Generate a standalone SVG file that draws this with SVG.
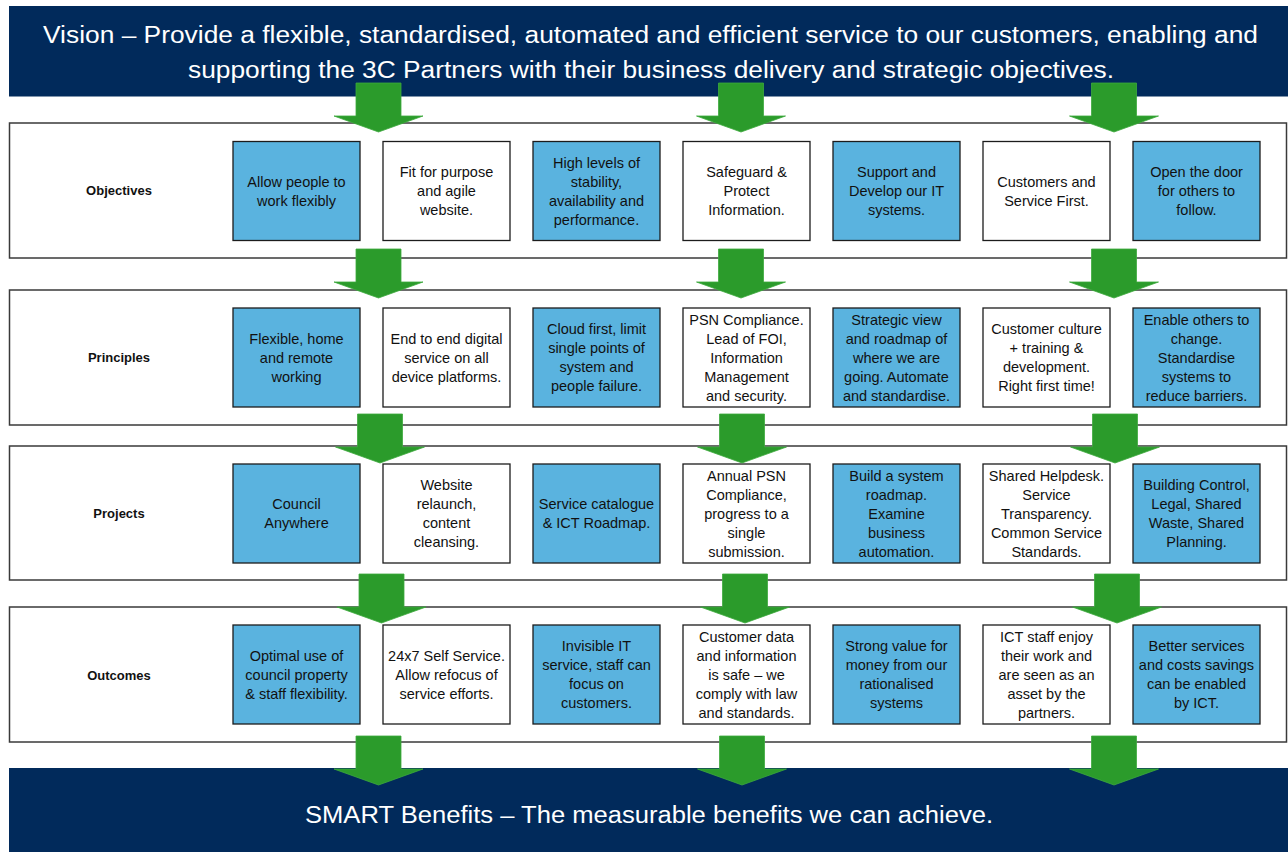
<svg xmlns="http://www.w3.org/2000/svg" width="1288" height="852" viewBox="0 0 1288 852">
  <style>
    .banner { fill: #012A5B; }
    .banner-text { font-family: "Liberation Sans", Arial, sans-serif; fill: #ffffff; text-anchor: middle; }
    .row { fill: #ffffff; stroke: #3a3a3a; stroke-width: 1.5; }
    .row-label { font-family: "Liberation Sans", Arial, sans-serif; font-size: 13px; font-weight: bold; fill: #111; text-anchor: middle; }
    .box-blue { fill: #5AB3DF; stroke: #1c1c1c; stroke-width: 1.3; }
    .box-white { fill: #ffffff; stroke: #1c1c1c; stroke-width: 1.3; }
    .box-text { font-family: "Liberation Sans", Arial, sans-serif; font-size: 14.5px; fill: #111; text-anchor: middle; }
    .arrow { fill: #2B9B2B; stroke: #3DAA3D; stroke-width: 0.8; }
  </style>
  <defs>
    <!-- block arrow, origin at the top centre of the shaft -->
    <path id="down" d="M-22.5,0 H22.5 V33 H44.5 L0,49 L-44.5,33 H-22.5 Z"/>
  </defs>

  <rect width="1288" height="852" fill="#ffffff"/>

  <!-- Vision banner -->
  <g id="vision">
    <rect class="banner" x="9" y="6" width="1285" height="90.5"/>
    <text class="banner-text" font-size="23" x="650.5" y="42.5" textLength="1215" lengthAdjust="spacingAndGlyphs">Vision – Provide a flexible, standardised, automated and efficient service to our customers, enabling and</text>
    <text class="banner-text" font-size="23" x="651" y="78" textLength="926" lengthAdjust="spacingAndGlyphs">supporting the 3C Partners with their business delivery and strategic objectives.</text>
  </g>

  <!-- Objectives -->
  <g id="objectives">
    <rect class="row" x="9.5" y="123" width="1277" height="135"/>
    <text class="row-label" x="119" y="195">Objectives</text>
  </g>
  <g id="obj-1"><rect class="box-blue" x="233" y="141.5" width="127" height="99"/>
    <text class="box-text" y="186.5"><tspan x="296.5">Allow people to</tspan><tspan x="296.5" dy="19">work flexibly</tspan></text></g>
  <g id="obj-2"><rect class="box-white" x="383" y="141.5" width="127" height="99"/>
    <text class="box-text" y="177"><tspan x="446.5">Fit for purpose</tspan><tspan x="446.5" dy="19">and agile</tspan><tspan x="446.5" dy="19">website.</tspan></text></g>
  <g id="obj-3"><rect class="box-blue" x="533" y="141.5" width="127" height="99"/>
    <text class="box-text" y="167.5"><tspan x="596.5">High levels of</tspan><tspan x="596.5" dy="19">stability,</tspan><tspan x="596.5" dy="19">availability and</tspan><tspan x="596.5" dy="19">performance.</tspan></text></g>
  <g id="obj-4"><rect class="box-white" x="683" y="141.5" width="127" height="99"/>
    <text class="box-text" y="177"><tspan x="746.5">Safeguard &amp;</tspan><tspan x="746.5" dy="19">Protect</tspan><tspan x="746.5" dy="19">Information.</tspan></text></g>
  <g id="obj-5"><rect class="box-blue" x="833" y="141.5" width="127" height="99"/>
    <text class="box-text" y="177"><tspan x="896.5">Support and</tspan><tspan x="896.5" dy="19">Develop our IT</tspan><tspan x="896.5" dy="19">systems.</tspan></text></g>
  <g id="obj-6"><rect class="box-white" x="983" y="141.5" width="127" height="99"/>
    <text class="box-text" y="186.5"><tspan x="1046.5">Customers and</tspan><tspan x="1046.5" dy="19">Service First.</tspan></text></g>
  <g id="obj-7"><rect class="box-blue" x="1133" y="141.5" width="127" height="99"/>
    <text class="box-text" y="177"><tspan x="1196.5">Open the door</tspan><tspan x="1196.5" dy="19">for others to</tspan><tspan x="1196.5" dy="19">follow.</tspan></text></g>

  <!-- Principles -->
  <g id="principles">
    <rect class="row" x="9.5" y="290" width="1277" height="135"/>
    <text class="row-label" x="119" y="362">Principles</text>
  </g>
  <g id="pri-1"><rect class="box-blue" x="233" y="308" width="127" height="99"/>
    <text class="box-text" y="343.5"><tspan x="296.5">Flexible, home</tspan><tspan x="296.5" dy="19">and remote</tspan><tspan x="296.5" dy="19">working</tspan></text></g>
  <g id="pri-2"><rect class="box-white" x="383" y="308" width="127" height="99"/>
    <text class="box-text" y="343.5"><tspan x="446.5">End to end digital</tspan><tspan x="446.5" dy="19">service on all</tspan><tspan x="446.5" dy="19">device platforms.</tspan></text></g>
  <g id="pri-3"><rect class="box-blue" x="533" y="308" width="127" height="99"/>
    <text class="box-text" y="334"><tspan x="596.5">Cloud first, limit</tspan><tspan x="596.5" dy="19">single points of</tspan><tspan x="596.5" dy="19">system and</tspan><tspan x="596.5" dy="19">people failure.</tspan></text></g>
  <g id="pri-4"><rect class="box-white" x="683" y="308" width="127" height="99"/>
    <text class="box-text" y="324.5"><tspan x="746.5">PSN Compliance.</tspan><tspan x="746.5" dy="19">Lead of FOI,</tspan><tspan x="746.5" dy="19">Information</tspan><tspan x="746.5" dy="19">Management</tspan><tspan x="746.5" dy="19">and security.</tspan></text></g>
  <g id="pri-5"><rect class="box-blue" x="833" y="308" width="127" height="99"/>
    <text class="box-text" y="324.5"><tspan x="896.5">Strategic view</tspan><tspan x="896.5" dy="19">and roadmap of</tspan><tspan x="896.5" dy="19">where we are</tspan><tspan x="896.5" dy="19">going. Automate</tspan><tspan x="896.5" dy="19">and standardise.</tspan></text></g>
  <g id="pri-6"><rect class="box-white" x="983" y="308" width="127" height="99"/>
    <text class="box-text" y="334"><tspan x="1046.5">Customer culture</tspan><tspan x="1046.5" dy="19">+ training &amp;</tspan><tspan x="1046.5" dy="19">development.</tspan><tspan x="1046.5" dy="19">Right first time!</tspan></text></g>
  <g id="pri-7"><rect class="box-blue" x="1133" y="308" width="127" height="99"/>
    <text class="box-text" y="324.5"><tspan x="1196.5">Enable others to</tspan><tspan x="1196.5" dy="19">change.</tspan><tspan x="1196.5" dy="19">Standardise</tspan><tspan x="1196.5" dy="19">systems to</tspan><tspan x="1196.5" dy="19">reduce barriers.</tspan></text></g>

  <!-- Projects -->
  <g id="projects">
    <rect class="row" x="9.5" y="446" width="1277" height="134"/>
    <text class="row-label" x="119" y="518">Projects</text>
  </g>
  <g id="prj-1"><rect class="box-blue" x="233" y="464" width="127" height="99"/>
    <text class="box-text" y="509"><tspan x="296.5">Council</tspan><tspan x="296.5" dy="19">Anywhere</tspan></text></g>
  <g id="prj-2"><rect class="box-white" x="383" y="464" width="127" height="99"/>
    <text class="box-text" y="490"><tspan x="446.5">Website</tspan><tspan x="446.5" dy="19">relaunch,</tspan><tspan x="446.5" dy="19">content</tspan><tspan x="446.5" dy="19">cleansing.</tspan></text></g>
  <g id="prj-3"><rect class="box-blue" x="533" y="464" width="127" height="99"/>
    <text class="box-text" y="509"><tspan x="596.5">Service catalogue</tspan><tspan x="596.5" dy="19">&amp; ICT Roadmap.</tspan></text></g>
  <g id="prj-4"><rect class="box-white" x="683" y="464" width="127" height="99"/>
    <text class="box-text" y="480.5"><tspan x="746.5">Annual PSN</tspan><tspan x="746.5" dy="19">Compliance,</tspan><tspan x="746.5" dy="19">progress to a</tspan><tspan x="746.5" dy="19">single</tspan><tspan x="746.5" dy="19">submission.</tspan></text></g>
  <g id="prj-5"><rect class="box-blue" x="833" y="464" width="127" height="99"/>
    <text class="box-text" y="480.5"><tspan x="896.5">Build a system</tspan><tspan x="896.5" dy="19">roadmap.</tspan><tspan x="896.5" dy="19">Examine</tspan><tspan x="896.5" dy="19">business</tspan><tspan x="896.5" dy="19">automation.</tspan></text></g>
  <g id="prj-6"><rect class="box-white" x="983" y="464" width="127" height="99"/>
    <text class="box-text" y="480.5"><tspan x="1046.5">Shared Helpdesk.</tspan><tspan x="1046.5" dy="19">Service</tspan><tspan x="1046.5" dy="19">Transparency.</tspan><tspan x="1046.5" dy="19">Common Service</tspan><tspan x="1046.5" dy="19">Standards.</tspan></text></g>
  <g id="prj-7"><rect class="box-blue" x="1133" y="464" width="127" height="99"/>
    <text class="box-text" y="490"><tspan x="1196.5">Building Control,</tspan><tspan x="1196.5" dy="19">Legal, Shared</tspan><tspan x="1196.5" dy="19">Waste, Shared</tspan><tspan x="1196.5" dy="19">Planning.</tspan></text></g>

  <!-- Outcomes -->
  <g id="outcomes">
    <rect class="row" x="9.5" y="607" width="1277" height="135"/>
    <text class="row-label" x="119" y="680">Outcomes</text>
  </g>
  <g id="out-1"><rect class="box-blue" x="233" y="625" width="127" height="99"/>
    <text class="box-text" y="660.5"><tspan x="296.5">Optimal use of</tspan><tspan x="296.5" dy="19">council property</tspan><tspan x="296.5" dy="19">&amp; staff flexibility.</tspan></text></g>
  <g id="out-2"><rect class="box-white" x="383" y="625" width="127" height="99"/>
    <text class="box-text" y="660.5"><tspan x="446.5">24x7 Self Service.</tspan><tspan x="446.5" dy="19">Allow refocus of</tspan><tspan x="446.5" dy="19">service efforts.</tspan></text></g>
  <g id="out-3"><rect class="box-blue" x="533" y="625" width="127" height="99"/>
    <text class="box-text" y="651"><tspan x="596.5">Invisible IT</tspan><tspan x="596.5" dy="19">service, staff can</tspan><tspan x="596.5" dy="19">focus on</tspan><tspan x="596.5" dy="19">customers.</tspan></text></g>
  <g id="out-4"><rect class="box-white" x="683" y="625" width="127" height="99"/>
    <text class="box-text" y="641.5"><tspan x="746.5">Customer data</tspan><tspan x="746.5" dy="19">and information</tspan><tspan x="746.5" dy="19">is safe – we</tspan><tspan x="746.5" dy="19">comply with law</tspan><tspan x="746.5" dy="19">and standards.</tspan></text></g>
  <g id="out-5"><rect class="box-blue" x="833" y="625" width="127" height="99"/>
    <text class="box-text" y="651"><tspan x="896.5">Strong value for</tspan><tspan x="896.5" dy="19">money from our</tspan><tspan x="896.5" dy="19">rationalised</tspan><tspan x="896.5" dy="19">systems</tspan></text></g>
  <g id="out-6"><rect class="box-white" x="983" y="625" width="127" height="99"/>
    <text class="box-text" y="641.5"><tspan x="1046.5">ICT staff enjoy</tspan><tspan x="1046.5" dy="19">their work and</tspan><tspan x="1046.5" dy="19">are seen as an</tspan><tspan x="1046.5" dy="19">asset by the</tspan><tspan x="1046.5" dy="19">partners.</tspan></text></g>
  <g id="out-7"><rect class="box-blue" x="1133" y="625" width="127" height="99"/>
    <text class="box-text" y="651"><tspan x="1196.5">Better services</tspan><tspan x="1196.5" dy="19">and costs savings</tspan><tspan x="1196.5" dy="19">can be enabled</tspan><tspan x="1196.5" dy="19">by ICT.</tspan></text></g>

  <!-- SMART Benefits banner -->
  <g id="benefits">
    <rect class="banner" x="9" y="768" width="1285" height="90"/>
    <text class="banner-text" font-size="23" x="649" y="823" textLength="688" lengthAdjust="spacingAndGlyphs">SMART Benefits – The measurable benefits we can achieve.</text>
  </g>

  <!-- Connectors: block arrows between the layers -->
  <g id="connectors">
    <use href="#down" class="arrow" x="378.5" y="83"/>
    <use href="#down" class="arrow" x="741" y="83"/>
    <use href="#down" class="arrow" x="1114" y="83"/>

    <use href="#down" class="arrow" x="378.5" y="249"/>
    <use href="#down" class="arrow" x="741" y="249"/>
    <use href="#down" class="arrow" x="1114" y="249"/>

    <use href="#down" class="arrow" x="380" y="414"/>
    <use href="#down" class="arrow" x="742" y="414"/>
    <use href="#down" class="arrow" x="1115" y="414"/>

    <use href="#down" class="arrow" x="381.5" y="574"/>
    <use href="#down" class="arrow" x="745" y="574"/>
    <use href="#down" class="arrow" x="1117" y="574"/>

    <use href="#down" class="arrow" x="378.5" y="736"/>
    <use href="#down" class="arrow" x="742" y="736"/>
    <use href="#down" class="arrow" x="1114" y="736"/>
  </g>
</svg>
